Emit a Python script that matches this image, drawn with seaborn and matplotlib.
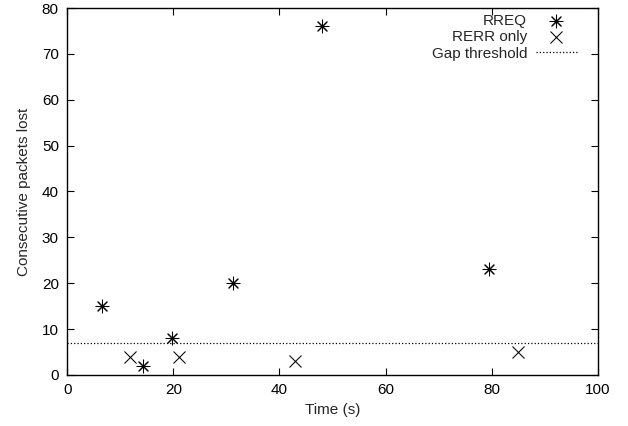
import pandas as pd
import seaborn as sns
import matplotlib.pyplot as plt

# data
rreq_time = [6.6, 14.2, 19.8, 31.3, 48.0, 79.4]
rreq_lost = [15, 2, 8, 20, 76, 23]
rerr_time = [11.9, 21.0, 43.0, 85.0]
rerr_lost = [4, 4, 3, 5]
gap_threshold = 7

sns.set_style('ticks')
plt.rcParams['font.family'] = ['Liberation Sans', 'DejaVu Sans']

df_rreq = pd.DataFrame({'time': rreq_time, 'lost': rreq_lost})
df_rerr = pd.DataFrame({'time': rerr_time, 'lost': rerr_lost})

fig, ax = plt.subplots(figsize=(6.28, 4.26), dpi=100)
fig.subplots_adjust(left=0.107, right=0.952, top=0.981, bottom=0.12)

sns.scatterplot(data=df_rreq, x='time', y='lost', marker=(8, 2, 0), s=85,
                color='black', linewidth=0.75, label='RREQ', ax=ax)
sns.scatterplot(data=df_rerr, x='time', y='lost', marker='x', s=75,
                color='black', linewidth=0.75, label='RERR only', ax=ax)
ax.axhline(gap_threshold, color='black', ls=':', lw=0.9, label='Gap threshold')

ax.set_xlim(0, 100)
ax.set_ylim(0, 80)
ax.set_xticks(range(0, 101, 20))
ax.set_yticks(range(0, 81, 10))
ax.tick_params(direction='in', top=True, right=True, length=5, width=0.8,
               labelsize=11, colors='black', pad=6)
for spine in ax.spines.values():
    spine.set_visible(True)
    spine.set_linewidth(1.0)
    spine.set_color('black')

ax.set_xlabel('Time (s)', fontsize=11)
ax.set_ylabel('Consecutive packets lost', fontsize=11, labelpad=8)

ax.legend(loc='upper right', bbox_to_anchor=(0.972, 1.0), markerfirst=False,
          frameon=False, fontsize=11, handlelength=2.7, handletextpad=0.55,
          labelspacing=0.15, borderaxespad=0)

plt.savefig('out.png', dpi=100)
